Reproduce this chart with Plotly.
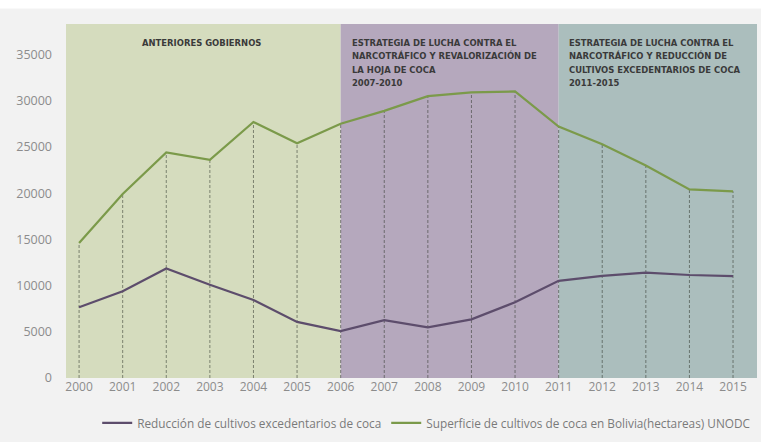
import plotly.graph_objects as go

years = list(range(2000, 2016))
superficie = [14600, 19900, 24400, 23600, 27700, 25400, 27500, 28900, 30500, 30900, 31000, 27200, 25300, 23000, 20400, 20200]
reduccion = [7653, 9395, 11839, 10089, 8437, 6073, 5070, 6269, 5484, 6341, 8200, 10509, 11044, 11407, 11144, 11020]
y_ticks = [0, 5000, 10000, 15000, 20000, 25000, 30000, 35000]

periods = [
    (1999.7, 2006, "#d5dcbe"),
    (2006, 2011, "#b5a8bd"),
    (2011, 2015.55, "#abbebd"),
]
period_texts = [
    (2002.8, "center", ["ANTERIORES GOBIERNOS"]),
    (2006.22, "left", ["ESTRATEGIA DE LUCHA CONTRA EL", "NARCOTRÁFICO Y REVALORIZACIÓN DE",
                       "LA HOJA DE COCA", "2007-2010"]),
    (2011.2, "left", ["ESTRATEGIA DE LUCHA CONTRA EL", "NARCOTRÁFICO Y REDUCCIÓN DE",
                      "CULTIVOS EXCEDENTARIOS DE COCA", "2011-2015"]),
]

green = "#7b9a4a"
purple = "#5d4d6c"

fig = go.Figure()

# dashed vertical guides from 0 to the green series
vx, vy = [], []
for yr, v in zip(years, superficie):
    vx += [yr, yr, None]
    vy += [0, v, None]
fig.add_trace(go.Scatter(x=vx, y=vy, mode="lines", showlegend=False, hoverinfo="skip",
                         line=dict(color="rgba(50,55,45,0.55)", width=1, dash="3px,2px")))

fig.add_trace(go.Scatter(x=years, y=reduccion, mode="lines",
                         name="Reducción de cultivos excedentarios de coca",
                         line=dict(color=purple, width=2.2)))
fig.add_trace(go.Scatter(x=years, y=superficie, mode="lines",
                         name="Superficie de cultivos de coca en Bolivia(hectareas) UNODC",
                         line=dict(color=green, width=2.2)))

shapes = []
for x0, x1, c in periods:
    shapes.append(dict(type="rect", xref="x", yref="paper", x0=x0, x1=x1, y0=0, y1=1,
                       fillcolor=c, line=dict(width=0), layer="below"))
shapes.append(dict(type="rect", xref="paper", yref="paper", x0=-0.2, x1=1.1, y0=1.044, y1=1.08,
                   fillcolor="white", line=dict(width=0), layer="below"))

annotations = []
for x, al, lines in period_texts:
    for i, t in enumerate(lines):
        ypx = 43 + i * 13.6
        annotations.append(dict(x=x, y=(387 - ypx) / 363, xref="x", yref="paper", text=t, showarrow=False,
                                xanchor="center" if al == "center" else "left", yanchor="middle",
                                font=dict(family="DejaVu Sans Condensed, Arial Narrow, sans-serif", size=9.4,
                                          color="#3a3a3a", weight="bold")))

fig.update_layout(
    width=761, height=442,
    margin=dict(l=66, r=4, t=24, b=55),
    paper_bgcolor="#f2f2f2",
    plot_bgcolor="#f2f2f2",
    shapes=shapes,
    annotations=annotations,
    showlegend=True,
    legend=dict(orientation="h", x=0.522, xanchor="center", y=-0.127, yanchor="middle",
                bgcolor="rgba(0,0,0,0)",
                font=dict(family="Open Sans, Lato, sans-serif", size=11.8, color="#7a7a7a"),
                tracegroupgap=0),
    xaxis=dict(range=[1999.7, 2015.55], tickvals=years, ticktext=[str(y) for y in years],
               showgrid=False, zeroline=False, showline=False, ticks="",
               tickfont=dict(family="Open Sans, Lato, sans-serif", size=12, color="#8c8c8c")),
    yaxis=dict(range=[0, 38300], tickvals=y_ticks, ticktext=[str(v) for v in y_ticks],
               showgrid=False, zeroline=False, showline=False, ticks="",
               ticklabelstandoff=13,
               tickfont=dict(family="Open Sans, Lato, sans-serif", size=12.5, color="#8c8c8c")),
)

fig.write_html("out.html")
